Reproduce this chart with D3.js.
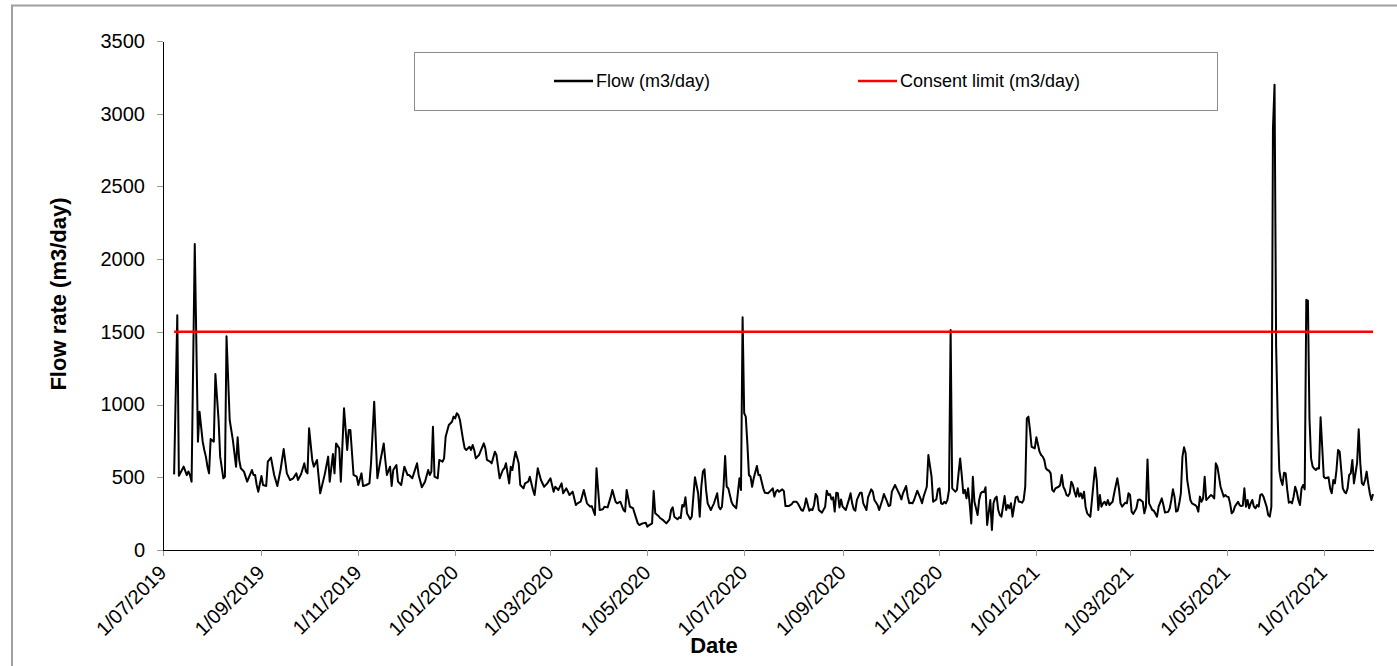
<!DOCTYPE html>
<html>
<head>
<meta charset="utf-8">
<script src="https://cdn.jsdelivr.net/npm/d3@7"></script>
<style>
  body { margin: 0; background: #fff; }
  svg { display: block; font-family: Arial, 'Liberation Sans', sans-serif; }
  .axis path, .axis line { shape-rendering: crispEdges; }
  .axis .domain { stroke: #000; stroke-width: 1.5px; }
  .axis .tick line { stroke: #999; }
  .axis text { font-size: 20px; fill: #000; }
  .axis-title { font-size: 22px; font-weight: bold; }
  .legend text { font-size: 18px; }
</style>
</head>
<body>
<svg id="chart"></svg>
<script>
// Days counted from 1/07/2019, one flow reading per entry
const startDate = new Date(Date.UTC(2019, 6, 1));
const endDate = new Date(Date.UTC(2021, 7, 1));

const flowDays = [
  7, 9, 10, 13, 15, 16, 17, 18, 20, 22, 23, 25, 26, 27, 28, 29, 30, 32, 33, 35, 36, 38, 39, 40, 42, 44, 46, 47, 48, 49,
  51, 53, 56, 57, 58, 59, 60, 62, 63, 65, 66, 68, 70, 72, 74, 76, 78, 80, 82, 84, 85, 87, 89, 90, 91, 92, 94, 95, 97, 98,
  99, 102, 104, 105, 107, 108, 109, 111, 112, 114, 116, 117, 118, 120, 122, 123, 125, 126, 128, 130, 131, 133, 135, 137, 139, 140, 141, 143, 144, 145,
  147, 148, 150, 152, 154, 155, 157, 160, 161, 163, 165, 167, 168, 169, 170, 171, 173, 174, 176, 177, 178, 180, 182, 183, 184, 185, 186, 187, 189, 190,
  191, 193, 194, 195, 196, 197, 199, 202, 203, 204, 206, 207, 209, 210, 212, 214, 215, 216, 218, 219, 220, 221, 222, 224, 225, 227, 228, 230, 231, 233,
  234, 236, 238, 240, 242, 244, 246, 247, 249, 251, 252, 254, 256, 258, 260, 261, 263, 265, 267, 269, 270, 272, 273, 275, 277, 278, 280, 282, 283, 285,
  286, 288, 290, 291, 292, 294, 296, 297, 299, 300, 302, 304, 305, 306, 308, 309, 310, 312, 313, 315, 317, 319, 320, 321, 322, 324, 325, 326, 327, 328,
  329, 330, 332, 333, 334, 335, 337, 338, 339, 340, 341, 342, 343, 345, 346, 347, 349, 350, 351, 352, 353, 354, 355, 356, 358, 359, 361, 362, 363, 364,
  365, 366, 367, 368, 369, 370, 371, 372, 374, 375, 376, 378, 379, 381, 382, 384, 385, 386, 387, 388, 390, 391, 392, 394, 396, 397, 399, 400, 402, 403,
  404, 405, 407, 408, 409, 410, 411, 412, 413, 415, 417, 418, 419, 420, 421, 422, 423, 424, 425, 426, 427, 428, 430, 432, 433, 434, 435, 436, 437, 439,
  440, 441, 443, 444, 446, 447, 448, 450, 451, 453, 454, 456, 457, 458, 459, 461, 462, 464, 465, 466, 468, 469, 470, 471, 472, 473, 475, 477, 478, 479,
  481, 482, 484, 485, 487, 488, 489, 490, 491, 492, 493, 494, 495, 496, 497, 499, 500, 501, 502, 503, 504, 505, 506, 507, 508, 509, 510, 511, 512, 513,
  514, 515, 516, 517, 518, 519, 521, 522, 523, 524, 525, 526, 527, 528, 529, 530, 531, 532, 533, 534, 535, 536, 537, 538, 539, 540, 541, 542, 543, 544,
  545, 546, 547, 549, 550, 552, 553, 554, 555, 556, 557, 558, 559, 560, 561, 562, 564, 565, 566, 567, 568, 569, 570, 571, 572, 573, 574, 575, 576, 577,
  578, 579, 580, 581, 582, 584, 585, 586, 587, 588, 589, 590, 591, 592, 593, 594, 595, 596, 597, 598, 599, 601, 602, 603, 604, 606, 607, 608, 609, 610,
  611, 613, 614, 615, 617, 618, 619, 620, 621, 623, 624, 626, 627, 629, 630, 631, 633, 634, 635, 636, 637, 638, 639, 640, 641, 642, 643, 644, 645, 647,
  648, 650, 651, 652, 653, 654, 655, 656, 657, 658, 659, 660, 661, 662, 663, 664, 665, 666, 668, 669, 670, 671, 672, 673, 674, 675, 677, 678, 679, 680,
  681, 682, 683, 684, 685, 686, 687, 688, 689, 690, 691, 692, 693, 695, 696, 697, 698, 699, 700, 701, 702, 703, 704, 705, 706, 707, 708, 709, 710, 711,
  712, 713, 714, 715, 716, 717, 718, 719, 720, 721, 722, 723, 724, 725, 726, 727, 728, 729, 730, 731, 732, 734, 735, 736, 737, 738, 739, 740, 741, 742,
  743, 744, 745, 746, 747, 748, 749, 750, 752, 753, 754, 755, 756, 757, 758, 759, 760, 761, 762
];

const flowValues = [
  520, 1615, 510, 573, 515, 540, 515, 470, 2104, 745, 951, 745, 688, 642, 573, 527, 763, 745, 1210, 894, 642, 493, 504, 1470, 894, 756, 573, 775, 619, 562,
  539, 470, 550, 516, 516, 447, 401, 509, 447, 440, 607, 635, 516, 440, 550, 694, 527, 481, 493, 527, 481, 522, 596, 539, 527, 837, 619, 573, 619, 504,
  390, 527, 642, 470, 660, 527, 733, 699, 470, 974, 688, 825, 825, 516, 504, 447, 527, 440, 447, 458, 596, 1020, 493, 619, 733, 619, 516, 573, 440, 550,
  584, 470, 447, 573, 516, 516, 493, 596, 516, 431, 470, 550, 516, 539, 848, 504, 493, 619, 607, 630, 779, 860, 882, 917, 905, 940, 928, 894, 756, 699,
  688, 710, 688, 722, 688, 630, 653, 733, 699, 619, 607, 596, 676, 653, 493, 550, 562, 596, 458, 573, 550, 619, 676, 596, 447, 424, 458, 470, 504, 413,
  378, 562, 481, 435, 458, 493, 401, 435, 413, 458, 390, 424, 378, 401, 309, 321, 332, 413, 321, 298, 302, 241, 562, 275, 280, 298, 293, 367, 413, 332,
  321, 332, 275, 264, 413, 298, 287, 252, 183, 172, 183, 188, 160, 170, 183, 406, 252, 234, 220, 205, 183, 211, 275, 293, 229, 211, 225, 220, 309, 298,
  362, 252, 211, 229, 367, 500, 390, 229, 435, 539, 555, 413, 321, 275, 298, 321, 390, 298, 280, 298, 435, 646, 435, 424, 332, 309, 287, 390, 493, 413,
  1600, 940, 917, 733, 516, 504, 435, 493, 578, 516, 516, 424, 394, 390, 400, 424, 367, 401, 413, 400, 417, 405, 302, 302, 316, 332, 332, 316, 275, 270,
  298, 355, 270, 280, 275, 309, 385, 367, 275, 257, 298, 408, 378, 385, 348, 362, 264, 394, 390, 293, 348, 298, 275, 348, 390, 321, 280, 270, 344, 394,
  394, 321, 275, 362, 417, 401, 344, 309, 275, 344, 385, 332, 302, 309, 401, 447, 424, 378, 348, 390, 440, 367, 321, 325, 321, 344, 408, 355, 321, 367,
  435, 653, 504, 332, 348, 417, 424, 321, 316, 332, 321, 344, 413, 1513, 424, 401, 413, 527, 630, 516, 390, 413, 355, 424, 321, 183, 504, 332, 287, 241,
  344, 390, 401, 398, 431, 172, 344, 138, 321, 355, 367, 275, 241, 229, 298, 371, 275, 309, 287, 321, 229, 298, 362, 367, 332, 332, 325, 344, 435, 905,
  917, 825, 710, 699, 775, 676, 653, 642, 619, 562, 550, 545, 527, 413, 401, 424, 435, 447, 516, 435, 413, 378, 372, 390, 470, 447, 401, 367, 424, 367,
  390, 355, 401, 298, 252, 229, 344, 458, 568, 481, 275, 378, 298, 321, 332, 309, 344, 309, 321, 332, 390, 493, 424, 321, 298, 325, 321, 390, 378, 264,
  248, 287, 344, 348, 332, 252, 298, 623, 321, 275, 270, 229, 298, 355, 309, 257, 262, 287, 344, 417, 367, 264, 270, 321, 390, 642, 706, 665, 481, 344,
  321, 309, 298, 264, 367, 332, 355, 504, 344, 355, 367, 378, 370, 355, 596, 573, 504, 435, 367, 378, 367, 365, 321, 252, 264, 298, 332, 309, 302, 305,
  424, 298, 344, 287, 321, 344, 298, 287, 309, 298, 378, 385, 367, 298, 241, 229, 298, 2900, 3200, 1400, 900, 550, 481, 447, 532, 527, 413, 325, 332, 321,
  367, 435, 401, 344, 309, 424, 447, 417, 1720, 1715, 900, 630, 573, 560, 550, 562, 560, 912, 710, 504, 493, 500, 424, 390, 481, 458, 550, 688, 676, 550,
  424, 401, 390, 424, 516, 527, 619, 458, 600, 830, 596, 458, 447, 481, 539, 458, 390, 344, 385
];

const consentLimit = 1500;
const consentStartDay = 7;
const yTickValues = [0, 500, 1000, 1500, 2000, 2500, 3000, 3500];
const legendLabels = ['Flow (m3/day)', 'Consent limit (m3/day)'];
const legendColors = ['#000000', '#ff0000'];

class FlowChart {

    constructor(_config) {
        this.config = {
            parentElement: _config.parentElement,
            containerWidth: _config.containerWidth || 1397,
            containerHeight: _config.containerHeight || 666,
            margin: _config.margin || {top: 41, right: 24, bottom: 116, left: 163},
        }
        this.initVis();
    }

    initVis() {
        let vis = this;

        vis.width = vis.config.containerWidth - vis.config.margin.left - vis.config.margin.right;
        vis.height = vis.config.containerHeight - vis.config.margin.top - vis.config.margin.bottom;

        vis.xScale = d3.scaleUtc()
            .domain([startDate, endDate])
            .range([0, vis.width]);

        vis.yScale = d3.scaleLinear()
            .domain([0, 3500])
            .range([vis.height, 0]);

        vis.xAxis = d3.axisBottom(vis.xScale)
            .ticks(d3.utcMonth.every(2))
            .tickFormat(d3.utcFormat('%-d/%m/%Y'))
            .tickSize(6)
            .tickSizeOuter(0);

        vis.yAxis = d3.axisLeft(vis.yScale)
            .tickValues(yTickValues)
            .tickFormat(d3.format('d'))
            .tickSize(6)
            .tickPadding(12)
            .tickSizeOuter(0);

        vis.svg = d3.select(vis.config.parentElement)
            .attr('width', vis.config.containerWidth)
            .attr('height', vis.config.containerHeight);

        // grey chart-area border (only top and left show in the picture)
        vis.svg.append('path')
            .attr('d', 'M12,666 V5.5 H1397')
            .attr('fill', 'none')
            .attr('stroke', '#a0a0a0')
            .attr('stroke-width', 2);

        vis.chart = vis.svg.append('g')
            .attr('transform', `translate(${vis.config.margin.left},${vis.config.margin.top})`);

        vis.xAxisG = vis.chart.append('g')
            .attr('class', 'axis x-axis')
            .attr('transform', `translate(0,${vis.height})`);

        vis.yAxisG = vis.chart.append('g')
            .attr('class', 'axis y-axis');

        // Axis titles
        vis.svg.append('text')
            .attr('class', 'axis-title')
            .attr('text-anchor', 'middle')
            .attr('transform', 'translate(66,294) rotate(-90)')
            .text('Flow rate (m3/day)');

        vis.svg.append('text')
            .attr('class', 'axis-title')
            .attr('text-anchor', 'middle')
            .attr('x', 714)
            .attr('y', 653)
            .text('Date');

        // Legend
        vis.legend = vis.svg.append('g').attr('class', 'legend');
        vis.legend.append('rect')
            .attr('x', 414.5).attr('y', 52.5)
            .attr('width', 803).attr('height', 58)
            .attr('fill', '#fff')
            .attr('stroke', '#8c8c8c');
        const legendX = [554, 858];
        legendLabels.forEach((label, i) => {
            vis.legend.append('line')
                .attr('x1', legendX[i]).attr('x2', legendX[i] + 39)
                .attr('y1', 81).attr('y2', 81)
                .attr('stroke', legendColors[i])
                .attr('stroke-width', 2.5);
            vis.legend.append('text')
                .attr('x', legendX[i] + 42)
                .attr('y', 87)
                .text(label);
        });

        vis.updateVis();
    }

    updateVis() {
        let vis = this;

        vis.flowData = flowDays.map((d, i) => ({
            date: d3.utcDay.offset(startDate, d),
            value: flowValues[i]
        }));

        vis.xValue = d => d.date;
        vis.yValue = d => d.value;

        vis.line = d3.line()
            .x(d => vis.xScale(vis.xValue(d)))
            .y(d => vis.yScale(vis.yValue(d)));

        vis.renderVis();
    }

    renderVis() {
        let vis = this;

        vis.xAxisG.call(vis.xAxis);
        vis.yAxisG.call(vis.yAxis);

        vis.xAxisG.selectAll('.tick text')
            .attr('text-anchor', 'end')
            .attr('x', 0)
            .attr('y', 0)
            .attr('dy', null)
            .attr('transform', 'translate(4,24) rotate(-45)');

        vis.chart.append('path')
            .datum(vis.flowData)
            .attr('fill', 'none')
            .attr('stroke', '#000')
            .attr('stroke-width', 2)
            .attr('stroke-linejoin', 'round')
            .attr('d', vis.line);

        vis.chart.append('line')
            .attr('x1', vis.xScale(d3.utcDay.offset(startDate, consentStartDay)))
            .attr('x2', vis.xScale(endDate))
            .attr('y1', vis.yScale(consentLimit))
            .attr('y2', vis.yScale(consentLimit))
            .attr('stroke', '#ff0000')
            .attr('stroke-width', 2.5);
    }
}

new FlowChart({ parentElement: '#chart' });
</script>
</body>
</html>
